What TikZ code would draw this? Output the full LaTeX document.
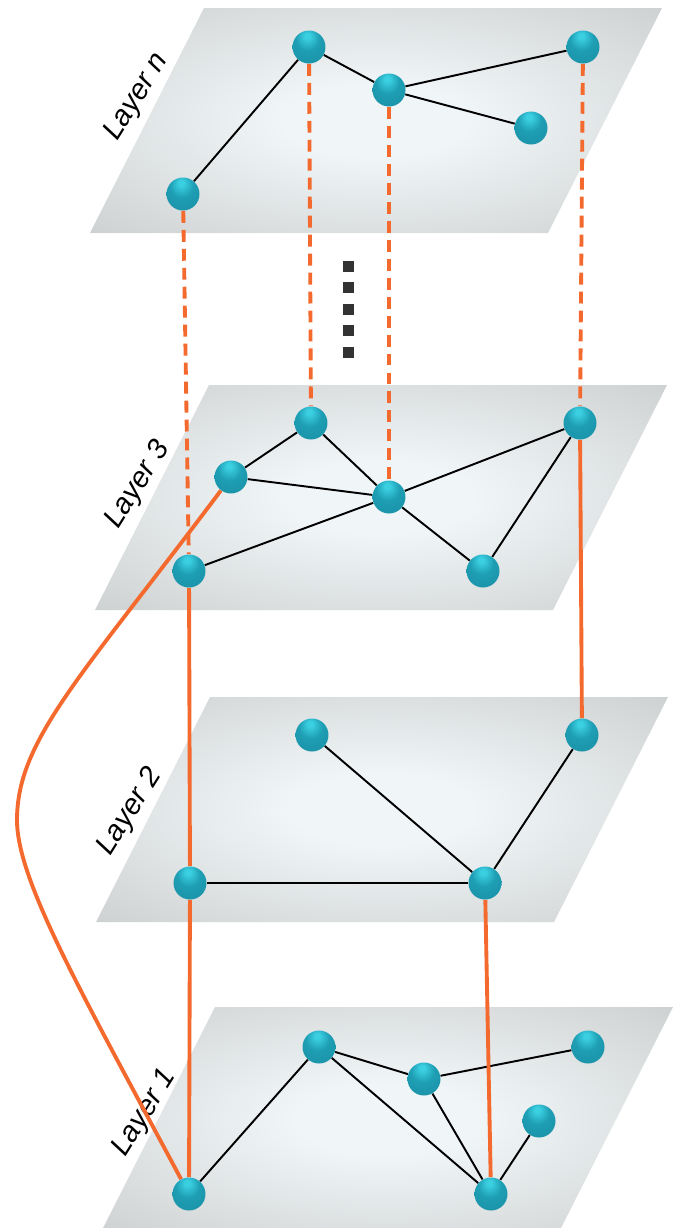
\documentclass[tikz,border=0pt]{standalone}
\usepackage{fontspec}
\setmainfont{Liberation Sans}
\definecolor{planelight}{HTML}{F0F5F7}
\definecolor{planedark}{HTML}{C6C9C9}
\definecolor{ballhi}{HTML}{3BCFE2}
\definecolor{ballmid}{HTML}{1E9EB4}
\definecolor{balldark}{HTML}{0A5868}
\definecolor{linkorange}{HTML}{F46A2E}
\definecolor{dotgray}{HTML}{333333}
\pgfdeclareradialshading{planeglow}{\pgfpoint{0bp}{0bp}}{color(0bp)=(planelight); color(8bp)=(planelight); color(42bp)=(planedark); color(50bp)=(planedark)}
\pgfdeclareradialshading{tealball}{\pgfpoint{-3bp}{18bp}}{color(0bp)=(ballhi); color(4bp)=(ballhi); color(18bp)=(ballmid); color(40bp)=(ballmid!80!balldark); color(62bp)=(balldark)}
\pgfdeclarelayer{bg}
\pgfdeclarelayer{mid}
\pgfsetlayers{bg,mid,main}
\begin{document}
\begin{tikzpicture}[x=0.02cm,y=-0.02cm,
    ball/.style={circle,minimum size=0.66cm,inner sep=0pt,shade,shading=tealball},
    plane/.style={shading=planeglow},
    inlayer/.style={black,line width=1.1pt},
    crosslink/.style={linkorange,line width=2.2pt},
    crossdash/.style={crosslink,dash pattern=on 6.8pt off 4pt},
    layerlabel/.style={rotate=58,inner sep=0pt,font=\fontsize{16.5}{19}\selectfont\itshape},
    sqdot/.style={fill=dotgray,minimum size=0.22cm,inner sep=0pt}]
  \useasboundingbox (0,0) rectangle (675,1228);
  \begin{pgfonlayer}{bg}
    \foreach \x/\y in {204/8,209/385,210/697,215/1007}
      \shade[plane] (\x,\y) -- ++(458,0) -- ++(-114,225) -- ++(-458,0) -- cycle;
    \node[layerlabel] (ln) at (137,97) {Layer n};
    \node[layerlabel] (l3) at (138,485) {Layer 3};
    \node[layerlabel] (l2) at (130,812) {Layer 2};
    \node[layerlabel] (l1) at (145,1113) {Layer 1};
  \end{pgfonlayer}
  \draw
    (183,194) node[ball] (n1){}
    (309,47) node[ball] (n2){}
    (389,90) node[ball] (n3){}
    (531,128) node[ball] (n4){}
    (583,47) node[ball] (n5){}
    (311,423) node[ball] (c1){}
    (231,477) node[ball] (c2){}
    (389,497) node[ball] (c3){}
    (580,423) node[ball] (c4){}
    (189,571) node[ball] (c5){}
    (483,571) node[ball] (c6){}
    (312,735) node[ball] (b1){}
    (582,735) node[ball] (b2){}
    (190,883) node[ball] (b3){}
    (485,883) node[ball] (b4){}
    (319,1047) node[ball] (a1){}
    (424,1079) node[ball] (a2){}
    (588,1047) node[ball] (a3){}
    (539,1121) node[ball] (a4){}
    (189,1194) node[ball] (a5){}
    (491,1194) node[ball] (a6){};
  \coordinate (bend) at (17,820);
  \foreach \y [count=\i] in {266,287.5,309,330.5,352}
    \node[sqdot] (d\i) at (348.5,\y) {};
  \begin{pgfonlayer}{mid}
    \begin{scope}[inlayer]
      \draw (n1) to (n2);
      \draw (n2) to (n3);
      \draw (n3) to (n5);
      \draw (n3) to (n4);
      \draw (c1) to (c2);
      \draw (c1) to (c3);
      \draw (c2) to (c3);
      \draw (c3) to (c4);
      \draw (c3) to (c6);
      \draw (c4) to (c6);
      \draw (c5) to (c3);
      \draw (b1) to (b4);
      \draw (b2) to (b4);
      \draw (b3) to (b4);
      \draw (a5) to (a1);
      \draw (a1) to (a2);
      \draw (a2) to (a3);
      \draw (a1) to (a6);
      \draw (a2) to (a6);
      \draw (a6) to (a4);
    \end{scope}
    \begin{scope}[crossdash]
      \draw (n1) to (c5);
      \draw (n2) to (c1);
      \draw (n3) to (c3);
      \draw (n5) to (c4);
    \end{scope}
    \begin{scope}[crosslink]
      \draw (c4) to (b2);
      \draw (c5) to (b3);
      \draw (b3) to (a5);
      \draw (b4) to (a6);
      \draw (c2) .. controls (81,677) and (17,740) .. (bend)
        .. controls (17,880) and (80,990) .. (a5);
    \end{scope}
  \end{pgfonlayer}
\end{tikzpicture}
\end{document}
